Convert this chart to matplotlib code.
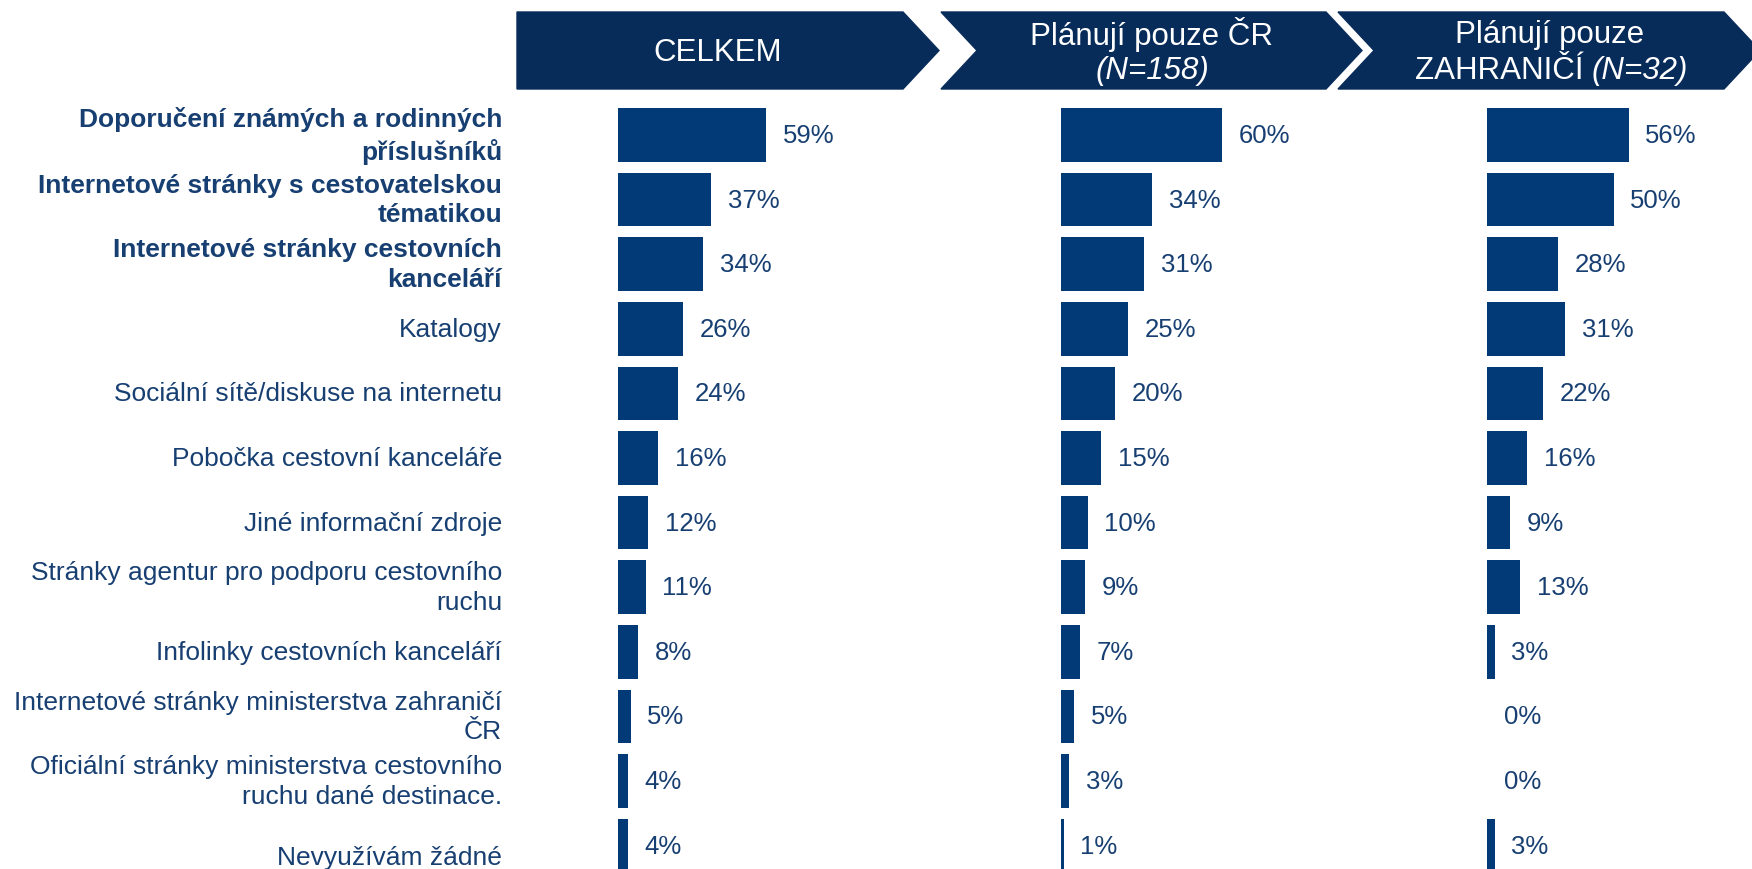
import matplotlib.pyplot as plt
from matplotlib.patches import Polygon

plt.rcParams['font.family'] = ['Liberation Sans', 'DejaVu Sans']

# data
categories = [
    "Doporučení známých a rodinných\npříslušníků",
    "Internetové stránky s cestovatelskou\ntématikou",
    "Internetové stránky cestovních\nkanceláří",
    "Katalogy",
    "Sociální sítě/diskuse na internetu",
    "Pobočka cestovní kanceláře",
    "Jiné informační zdroje",
    "Stránky agentur pro podporu cestovního\nruchu",
    "Infolinky cestovních kanceláří",
    "Internetové stránky ministerstva zahraničí\nČR",
    "Oficiální stránky ministerstva cestovního\nruchu dané destinace.",
    "Nevyužívám žádné",
]
bold_rows = [0, 1, 2]
celkem = [59, 37, 34, 26, 24, 16, 12, 11, 8, 5, 4, 4]
jen_cr = [60, 34, 31, 25, 20, 15, 10, 9, 7, 5, 3, 1]
jen_zahr = [56, 50, 28, 31, 22, 16, 9, 13, 3, 0, 0, 3]

BAR = "#023a78"
TXT = "#173f72"
HDR = "#082c5a"

W, H = 1752, 870
fig = plt.figure(figsize=(W / 100, H / 100), dpi=100)

# radky: stred prvniho pruhu y=136 px, krok 64.6 px
row0, step = 136, 64.6
ylim = ((H - row0) / step, (0 - row0) / step)

panels = [(celkem, 618, 2.51), (jen_cr, 1061, 2.68), (jen_zahr, 1487, 2.53)]
axes = []
for vals, x0, scale in panels:
    ax = fig.add_axes([x0 / W, 0, 280 / W, 1])
    ax.barh(range(len(vals)), vals, height=0.83, color=BAR)
    for i, v in enumerate(vals):
        ax.annotate(f"{v}%", (v, i), xytext=(12, 0), textcoords="offset points",
                    ha="left", va="center", fontsize=18.5, color=TXT)
    ax.set_xlim(0, 280 / scale)
    ax.set_ylim(*ylim)
    ax.axis("off")
    axes.append(ax)

# popisky kategorii
ax1 = axes[0]
for i, lab in enumerate(categories):
    dy = 0.17 if i == len(categories) - 1 else 0
    ax1.annotate(lab, (0, i + dy), xytext=(-83.5, 0), textcoords="offset points",
                 ha="right", va="center", multialignment="right", fontsize=19,
                 color=TXT, linespacing=1.3,
                 fontweight="bold" if i in bold_rows else "normal",
                 annotation_clip=False)

# zahlavi - sipky
hd = fig.add_axes([0, 0, 1, 1])
hd.set_xlim(0, W)
hd.set_ylim(H, 0)
hd.axis("off")
top, bot = 13, 90
mid = (top + bot) / 2
hd.add_patch(Polygon([(517, top), (903, top), (939, mid), (903, bot), (517, bot)], color=HDR))
hd.add_patch(Polygon([(941, top), (1326, top), (1362, mid), (1326, bot), (941, bot), (977, mid)], color=HDR))
hd.add_patch(Polygon([(1338, top), (1724, top), (1760, mid), (1724, bot), (1338, bot), (1374, mid)], color=HDR))

hs = 22.5
hd.text(718, 53, "CELKEM", ha="center", va="center", color="white", fontsize=hs)
hd.text(1152, 35, "Plánují pouze ČR", ha="center", va="center", color="white", fontsize=hs)
hd.text(1152, 71, "(N=158)", ha="center", va="center", color="white", fontsize=hs, style="italic")
hd.text(1550, 35, "Plánují pouze", ha="center", va="center", color="white", fontsize=hs)
t1 = hd.text(1592, 71, "ZAHRANIČÍ ", ha="right", va="center", color="white", fontsize=hs)
hd.annotate("(N=32)", xy=(1, 0.5), xycoords=t1, ha="left", va="center",
            color="white", fontsize=hs, style="italic")

fig.savefig("out.png", dpi=100)
